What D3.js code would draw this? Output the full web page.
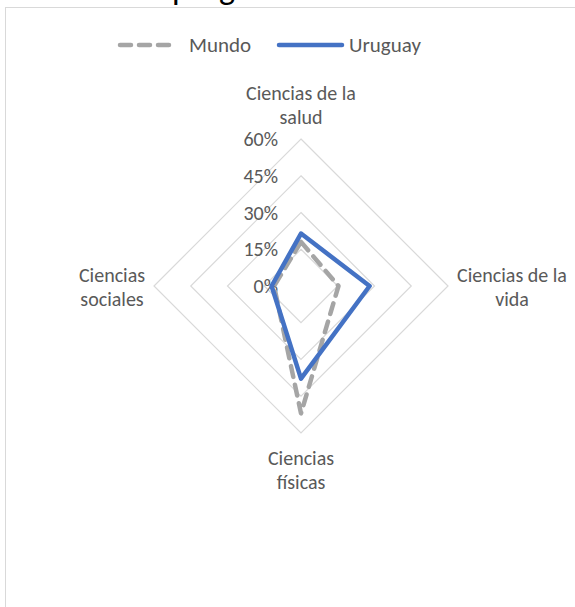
<!DOCTYPE html>
<html>
<head>
<meta charset="utf-8">
<script src="https://d3js.org/d3.v7.min.js"></script>
<style>
  body { margin: 0; background: #fff; }
  text { font-family: Carlito, "Liberation Sans", Arial, sans-serif; }
</style>
</head>
<body>
<div id="chart"></div>
<script>
// data
var categories = ["Ciencias de la salud", "Ciencias de la vida", "Ciencias físicas", "Ciencias sociales"];
var catLines = [["Ciencias de la", "salud"], ["Ciencias de la", "vida"], ["Ciencias", "físicas"], ["Ciencias", "sociales"]];
var mundo = [0.18, 0.153, 0.52, 0.11];
var uruguay = [0.214, 0.28, 0.378, 0.12];
var tickValues = [0, 0.15, 0.30, 0.45, 0.60];
var seriesNames = ["Mundo", "Uruguay"];

var width = 575, height = 607;
var cx = 301, cy = 286;

var svg = d3.select("#chart").append("svg")
  .attr("width", width)
  .attr("height", height);

// title, cut off by the top of the picture as in the reference
svg.append("text")
  .attr("x", 172).attr("y", -1)
  .attr("font-size", 34)
  .attr("fill", "#000")
  .text("programa");

// chart frame (runs past the picture on the right and bottom)
svg.append("rect")
  .attr("x", 5.5).attr("y", 7.5)
  .attr("width", 700).attr("height", 700)
  .attr("fill", "#fff")
  .attr("stroke", "#d9d9d9");

var r = d3.scaleLinear().domain([0, 0.6]).range([0, 147]);
var angle = d3.scaleLinear().domain([0, categories.length]).range([0, 2 * Math.PI]);

var g = svg.append("g").attr("transform", "translate(" + cx + "," + cy + ")");

var radial = d3.lineRadial()
  .angle(function (d, i) { return angle(i); })
  .radius(function (d) { return r(d); })
  .curve(d3.curveLinearClosed);

// grid rings
g.selectAll(".ring")
  .data(tickValues.slice(1))
  .enter().append("path")
  .attr("class", "ring")
  .attr("d", function (t) { return radial(categories.map(function () { return t; })); })
  .attr("fill", "none")
  .attr("stroke", "#d9d9d9")
  .attr("stroke-width", 1.2);

// tick labels
g.selectAll(".tick")
  .data(tickValues)
  .enter().append("text")
  .attr("x", -23)
  .attr("y", function (t) { return -r(t); })
  .attr("dy", "0.35em")
  .attr("text-anchor", "end")
  .attr("font-size", 20)
  .attr("fill", "#595959")
  .text(d3.format(".0%"));

// series
g.append("path")
  .attr("d", radial(mundo))
  .attr("fill", "none")
  .attr("stroke", "#a5a5a5")
  .attr("stroke-width", 4.5)
  .attr("stroke-dasharray", "11,8")
  .attr("stroke-linecap", "round")
  .attr("stroke-linejoin", "round");

g.append("path")
  .attr("d", radial(uruguay))
  .attr("fill", "none")
  .attr("stroke", "#4472c4")
  .attr("stroke-width", 4.5)
  .attr("stroke-linejoin", "round");

// category labels
var labelPos = [
  { x: 0, y: -186 },
  { x: 211, y: -4 },
  { x: 0, y: 179 },
  { x: -189, y: -4 }
];
g.selectAll(".cat")
  .data(catLines)
  .enter().append("text")
  .attr("class", "cat")
  .attr("text-anchor", "middle")
  .attr("font-size", 20)
  .attr("fill", "#595959")
  .attr("transform", function (d, i) { return "translate(" + labelPos[i].x + "," + labelPos[i].y + ")"; })
  .selectAll("tspan")
  .data(function (d) { return d; })
  .enter().append("tspan")
  .attr("x", 0)
  .attr("y", function (d, i) { return i * 24; })
  .text(function (d) { return d; });

// legend
var legend = svg.append("g");
legend.append("line")
  .attr("x1", 120).attr("x2", 172).attr("y1", 45).attr("y2", 45)
  .attr("stroke", "#a5a5a5").attr("stroke-width", 4.5)
  .attr("stroke-dasharray", "11,8").attr("stroke-linecap", "round");
legend.append("text")
  .attr("x", 189).attr("y", 52)
  .attr("font-size", 21).attr("fill", "#595959")
  .text(seriesNames[0]);
legend.append("line")
  .attr("x1", 279).attr("x2", 342).attr("y1", 45).attr("y2", 45)
  .attr("stroke", "#4472c4").attr("stroke-width", 4.5)
  .attr("stroke-linecap", "round");
legend.append("text")
  .attr("x", 349).attr("y", 52)
  .attr("font-size", 21).attr("fill", "#595959")
  .text(seriesNames[1]);
</script>
</body>
</html>
